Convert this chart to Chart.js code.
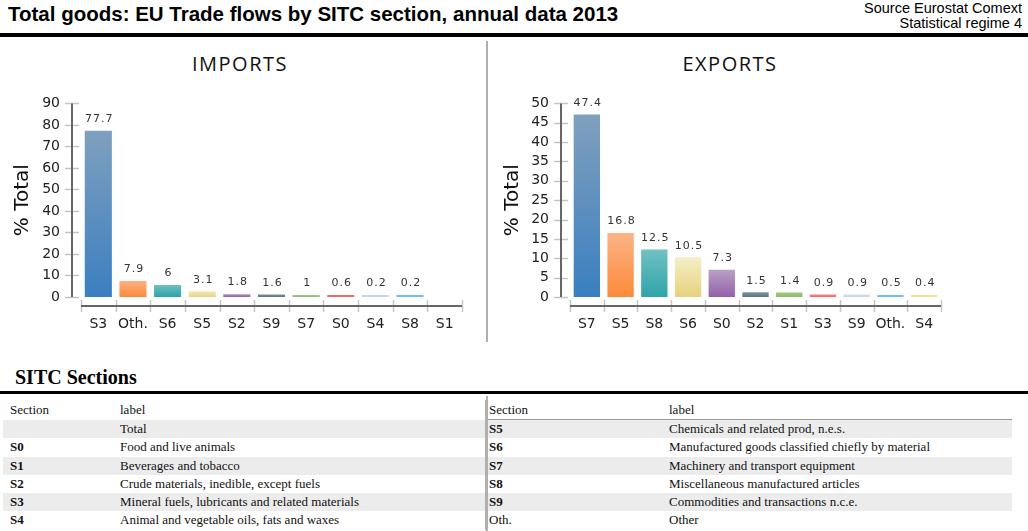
<!DOCTYPE html>
<html>
<head>
<meta charset="utf-8">
<script src="https://cdn.jsdelivr.net/npm/chart.js@4.4.1/dist/chart.umd.min.js"></script>
<style>
  body { margin: 0; width: 1028px; height: 531px; overflow: hidden; background: #fff; position: relative; font-family: "Liberation Sans", Arial, sans-serif; color: #000; }
  #title { position: absolute; left: 8px; top: 3px; font-size: 20.5px; line-height: 22px; font-weight: bold; }
  #source { position: absolute; right: 6px; top: 1px; font-size: 14.5px; line-height: 14.5px; text-align: right; }
  #rule { position: absolute; left: 0; top: 33px; width: 1028px; height: 4px; background: #000; }
  #divider { position: absolute; left: 486px; top: 41px; width: 2px; height: 301px; background: #b0b0b0; }
  .panel { position: absolute; top: 53px; width: 300px; text-align: center; font-family: "Open Sans", sans-serif; font-size: 20px; line-height: 22px; letter-spacing: 1.5px; color: #111; }
  canvas { position: absolute; }
  #sitc { position: absolute; left: 15px; top: 367px; font-family: "Liberation Serif", "Times New Roman", serif; font-size: 20px; line-height: 20px; font-weight: bold; }
  #rule2 { position: absolute; left: 0; top: 391px; width: 1028px; height: 3px; background: #000; }
  table { position: absolute; left: 3px; top: 400px; border-collapse: collapse; table-layout: fixed; font-family: "Liberation Serif", "Times New Roman", serif; font-size: 13px; color: #111; }
  td { padding: 0; height: 18.3px; line-height: 18.3px; white-space: nowrap; overflow: hidden; }
  tr.head td { height: 19px; line-height: 19px; }
  td.code { padding-left: 7px; }
  td.code b { font-weight: bold; }
  td.right { border-left: 2px solid #b0b0b0; padding-left: 2px; }
  tr.head td.rh { border-bottom: 1.5px solid #999; }
  tr.band td { background: #ececec; }
  #tableDiv { position: absolute; left: 486px; top: 396px; width: 2px; height: 135px; background: #b0b0b0; }
</style>
</head>
<body>
<div id="title">Total goods: EU Trade flows by SITC section, annual data 2013</div>
<div id="source">Source Eurostat Comext<br>Statistical regime 4</div>
<div id="rule"></div>
<div id="divider"></div>
<div class="panel" style="left:90px">IMPORTS</div>
<div class="panel" style="left:580px">EXPORTS</div>
<canvas id="importsChart" width="480" height="266" style="left:0;top:74px"></canvas>
<canvas id="exportsChart" width="538" height="266" style="left:490px;top:74px"></canvas>
<div id="sitc">SITC Sections</div>
<div id="rule2"></div>
<table id="sections">
  <colgroup><col style="width:117px"><col style="width:366px"><col style="width:183px"><col style="width:343px"></colgroup>
  <tbody></tbody>
</table>
<script>
// Imports, % of total, sorted as in the source
const importCats = ['S3', 'Oth.', 'S6', 'S5', 'S2', 'S9', 'S7', 'S0', 'S4', 'S8', 'S1'];
const importVals = [77.7, 7.9, 6, 3.1, 1.8, 1.6, 1, 0.6, 0.2, 0.2, null];

// Exports, % of total
const exportCats = ['S7', 'S5', 'S8', 'S6', 'S0', 'S2', 'S1', 'S3', 'S9', 'Oth.', 'S4'];
const exportVals = [47.4, 16.8, 12.5, 10.5, 7.3, 1.5, 1.4, 0.9, 0.9, 0.5, 0.4];

// SITC section legend
const sectionCodes = ['', 'S0', 'S1', 'S2', 'S3', 'S4', 'S5', 'S6', 'S7', 'S8', 'S9', 'Oth.'];
const sectionLabels = [
  'Total',
  'Food and live animals',
  'Beverages and tobacco',
  'Crude materials, inedible, except fuels',
  'Mineral fuels, lubricants and related materials',
  'Animal and vegetable oils, fats and waxes',
  'Chemicals and related prod, n.e.s.',
  'Manufactured goods classified chiefly by material',
  'Machinery and transport equipment',
  'Miscellaneous manufactured articles',
  'Commodities and transactions n.c.e.',
  'Other',
];

// bar colours by rank: [top, bottom] of the gradient
const palette = [
  ['#80a0be', '#3a7fc0'],
  ['#fbb488', '#fd8a3a'],
  ['#72c1c3', '#2fa4a7'],
  ['#f5efcb', '#e6d27c'],
  ['#b9a3c6', '#9460a8'],
  ['#8299a1', '#577983'],
  ['#a3cb86', '#8dbd6a'],
  ['#f59090', '#f06a6a'],
  ['#dbe3f2', '#c7d3ec'],
  ['#a6dbf9', '#6cc2f6'],
  ['#fdf1c4', '#fbe08c'],
];

function barFill(ctx) {
  const col = palette[ctx.dataIndex % palette.length];
  const chart = ctx.chart;
  const v = ctx.raw;
  if (!chart.chartArea || v == null) return col[1];
  const ys = chart.scales.y;
  const top = ys.getPixelForValue(v);
  const base = ys.getPixelForValue(0);
  if (base - top < 2) return col[1];
  const g = chart.ctx.createLinearGradient(0, top, 0, base);
  g.addColorStop(0, col[0]);
  g.addColorStop(1, col[1]);
  return g;
}

// detached axis lines with tick marks, drawn from the scales
const axisLines = {
  id: 'axisLines',
  beforeDatasetsDraw(chart) {
    const { ctx, chartArea: a, scales } = chart;
    const xs = scales.x, ys = scales.y;
    const ax = a.left - 9, ay = a.bottom + 9;
    const line = (x1, y1, x2, y2) => { ctx.beginPath(); ctx.moveTo(x1, y1); ctx.lineTo(x2, y2); ctx.stroke(); };
    ctx.save();
    ctx.strokeStyle = '#c4c4c4';
    ctx.lineWidth = 1.5;
    ys.ticks.forEach((t, i) => {
      const py = Math.round(ys.getPixelForTick(i)) + 0.5;
      line(ax - 7, py, ax + 7, py);
    });
    const w = (a.right - a.left) / xs.ticks.length;
    for (let i = 0; i <= xs.ticks.length; i++) {
      const px = Math.round(a.left + i * w) + 0.5;
      line(px, ay - 6, px, ay + 6);
    }
    ctx.strokeStyle = '#666';
    ctx.lineWidth = 2;
    line(ax, ys.getPixelForValue(ys.max), ax, ys.getPixelForValue(0));
    line(a.left, ay, a.right, ay);
    ctx.restore();
  },
};

const valueLabels = {
  id: 'valueLabels',
  afterDatasetsDraw(chart) {
    const { ctx } = chart;
    const meta = chart.getDatasetMeta(0);
    const data = chart.data.datasets[0].data;
    ctx.save();
    ctx.font = '11px "DejaVu Sans"';
    ctx.fillStyle = '#333';
    ctx.textAlign = 'center';
    ctx.textBaseline = 'bottom';
    ctx.letterSpacing = '1px';
    meta.data.forEach((bar, i) => {
      if (data[i] == null) return;
      ctx.fillText(String(data[i]), bar.x + 1, bar.y - 5);
    });
    ctx.restore();
  },
};

function makeChart(id, cats, vals, max, step, leftW, rightPad) {
  return new Chart(document.getElementById(id), {
    type: 'bar',
    data: {
      labels: cats,
      datasets: [{
        data: vals,
        backgroundColor: barFill,
        borderColor: 'rgba(255,255,255,0.75)',
        borderWidth: 1,
        categoryPercentage: 1,
        barPercentage: 0.84,
        minBarLength: 3,
      }],
    },
    plugins: [axisLines, valueLabels],
    options: {
      responsive: false,
      animation: false,
      layout: { padding: { top: 18, right: rightPad, left: 0, bottom: 0 } },
      plugins: { legend: { display: false }, tooltip: { enabled: false } },
      scales: {
        x: {
          grid: { display: false, drawTicks: false },
          border: { display: false },
          ticks: {
            padding: 19, color: '#222', autoSkip: false, minRotation: 0, maxRotation: 0,
            font: { family: 'DejaVu Sans', size: 14 },
          },
          afterFit(s) { s.height = 43; },
        },
        y: {
          min: 0,
          max: max,
          grid: { display: false, drawTicks: false },
          border: { display: false },
          ticks: {
            stepSize: step, autoSkip: false, padding: 21, color: '#222',
            font: { family: 'DejaVu Sans', size: 14 },
          },
          title: {
            display: true,
            text: '% Total',
            color: '#111',
            font: { family: 'DejaVu Sans', size: 20 },
            padding: { top: 11, bottom: 0 },
          },
          afterFit(s) { s.width = leftW; },
        },
      },
    },
  });
}

makeChart('importsChart', importCats, importVals, 90, 10, 81, 18);
makeChart('exportsChart', exportCats, exportVals, 50, 5, 80, 87);

// legend table: first six rows left, rest right
const tbody = document.querySelector('#sections tbody');
const half = 6;
function codeCell(code) {
  if (code === '') return '';
  return code === 'Oth.' ? code : '<b>' + code + '</b>';
}
let html = '<tr class="head"><td class="code">Section</td><td>label</td>' +
  '<td class="right rh">Section</td><td class="rh">label</td></tr>';
for (let i = 0; i < half; i++) {
  const j = i + half;
  html += '<tr' + (i % 2 === 0 ? ' class="band"' : '') + '>' +
    '<td class="code">' + codeCell(sectionCodes[i]) + '</td>' +
    '<td>' + sectionLabels[i] + '</td>' +
    '<td class="right">' + codeCell(sectionCodes[j]) + '</td>' +
    '<td>' + sectionLabels[j] + '</td></tr>';
}
tbody.innerHTML = html;
</script>
<div id="tableDiv"></div>
</body>
</html>
